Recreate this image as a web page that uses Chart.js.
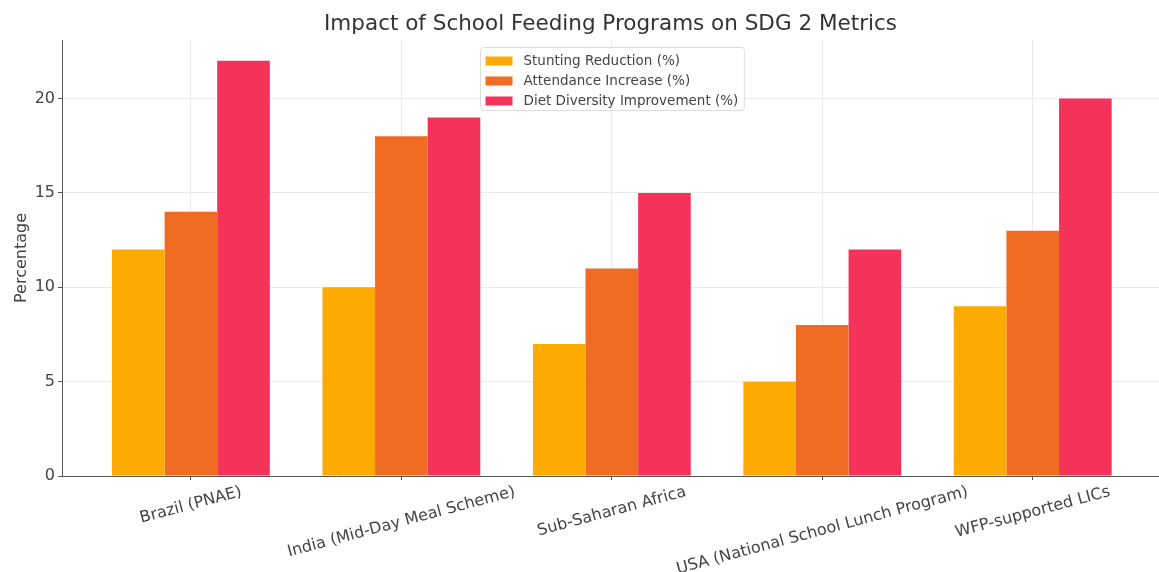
<!DOCTYPE html>
<html>
<head>
<meta charset="utf-8">
<script src="https://cdn.jsdelivr.net/npm/chart.js@4/dist/chart.umd.min.js"></script>
<style>
  html, body { margin: 0; padding: 0; background: #fff; }
  #wrap { width: 1159px; height: 572px; }
</style>
</head>
<body>
<div id="wrap"><canvas id="chart" width="1159" height="572"></canvas></div>
<script>
const programs = [
  "Brazil (PNAE)",
  "India (Mid-Day Meal Scheme)",
  "Sub-Saharan Africa",
  "USA (National School Lunch Program)",
  "WFP-supported LICs",
];
const stunting = [12, 10, 7, 5, 9];
const attendance = [14, 18, 11, 8, 13];
const diet = [22, 19, 15, 12, 20];
const yTicks = [0, 5, 10, 15, 20];

const seriesNames = [
  "Stunting Reduction (%)",
  "Attendance Increase (%)",
  "Diet Diversity Improvement (%)",
];
const seriesColors = ["#FDAA02", "#EF6C22", "#F5335A"];

const FONT = "'DejaVu Sans', sans-serif";

function points(values) {
  return values.map((v, i) => ({ x: i, y: v }));
}

// x labels drawn centred + rotated like matplotlib, and the legend box
const extras = {
  id: "extras",
  afterDraw(chart) {
    const ctx = chart.ctx;
    const xs = chart.scales.x;
    const area = chart.chartArea;

    ctx.save();
    ctx.font = "16px " + FONT;
    ctx.fillStyle = "#444";
    ctx.textAlign = "center";
    ctx.textBaseline = "middle";
    const rot = (15 * Math.PI) / 180;
    programs.forEach((name, i) => {
      const w = ctx.measureText(name).width;
      const h = 18;
      const bboxH = w * Math.sin(rot) + h * Math.cos(rot);
      const top = area.bottom + 7;
      ctx.save();
      ctx.translate(xs.getPixelForValue(i), top + bboxH / 2);
      ctx.rotate(-rot);
      ctx.fillText(name, 0, 0);
      ctx.restore();
    });
    ctx.restore();

    // legend
    ctx.save();
    ctx.font = "13.5px " + FONT;
    let textW = 0;
    seriesNames.forEach((n) => (textW = Math.max(textW, ctx.measureText(n).width)));
    const boxW = 5 + 27 + 11 + textW + 6;
    const boxH = 63;
    const cx = (area.left + 1162) / 2;
    const bx = Math.round(cx - boxW / 2) + 0.5;
    const by = 47.5;
    ctx.fillStyle = "rgba(255,255,255,0.8)";
    ctx.strokeStyle = "#dcdcdc";
    ctx.lineWidth = 1;
    ctx.beginPath();
    ctx.roundRect(bx, by, boxW, boxH, 3);
    ctx.fill();
    ctx.stroke();
    ctx.textAlign = "left";
    ctx.textBaseline = "middle";
    chart.data.datasets.forEach((ds, i) => {
      const y = by + 13 + i * 20;
      ctx.fillStyle = ds.backgroundColor;
      ctx.fillRect(bx + 5, y - 4, 27, 9);
      ctx.fillStyle = "#444";
      ctx.fillText(ds.label, bx + 43, y + 0.5);
    });
    ctx.restore();
  },
};

new Chart(document.getElementById("chart").getContext("2d"), {
  type: "bar",
  data: {
    datasets: [
      { label: seriesNames[0], data: points(stunting), backgroundColor: seriesColors[0] },
      { label: seriesNames[1], data: points(attendance), backgroundColor: seriesColors[1] },
      { label: seriesNames[2], data: points(diet), backgroundColor: seriesColors[2] },
    ],
  },
  options: {
    responsive: false,
    animation: false,
    layout: { padding: 0 },
    datasets: {
      bar: { categoryPercentage: 0.75, barPercentage: 1.0, borderWidth: 0 },
    },
    plugins: {
      legend: { display: false },
      tooltip: { enabled: false },
      title: {
        display: true,
        fullSize: false,
        text: "Impact of School Feeding Programs on SDG 2 Metrics",
        color: "#333",
        font: { family: FONT, size: 21.5, weight: "normal" },
        padding: { top: 12, bottom: 2.2 },
      },
    },
    scales: {
      x: {
        type: "linear",
        min: -0.6125,
        max: 4.6,
        offset: false,
        afterBuildTicks: (s) => {
          s.ticks = programs.map((p, i) => ({ value: i }));
        },
        afterFit: (s) => {
          s.height = 96;
        },
        ticks: { display: false },
        grid: {
          offset: false,
          color: "#ebebeb",
          tickColor: "#555",
          tickLength: 4,
          drawTicks: true,
        },
        border: { display: true, color: "#555", width: 1 },
      },
      y: {
        min: 0,
        max: 23.1,
        afterBuildTicks: (s) => {
          s.ticks = yTicks.map((v) => ({ value: v }));
        },
        afterFit: (s) => {
          s.width = 62;
        },
        ticks: {
          color: "#444",
          font: { family: FONT, size: 16 },
          padding: 3,
        },
        grid: {
          color: "#ebebeb",
          tickColor: "#555",
          tickLength: 4,
        },
        border: { display: true, color: "#555", width: 1 },
        title: {
          display: true,
          text: "Percentage",
          color: "#444",
          font: { family: FONT, size: 16 },
          padding: { top: 12, bottom: 0 },
        },
      },
    },
  },
  plugins: [extras],
});
</script>
</body>
</html>
